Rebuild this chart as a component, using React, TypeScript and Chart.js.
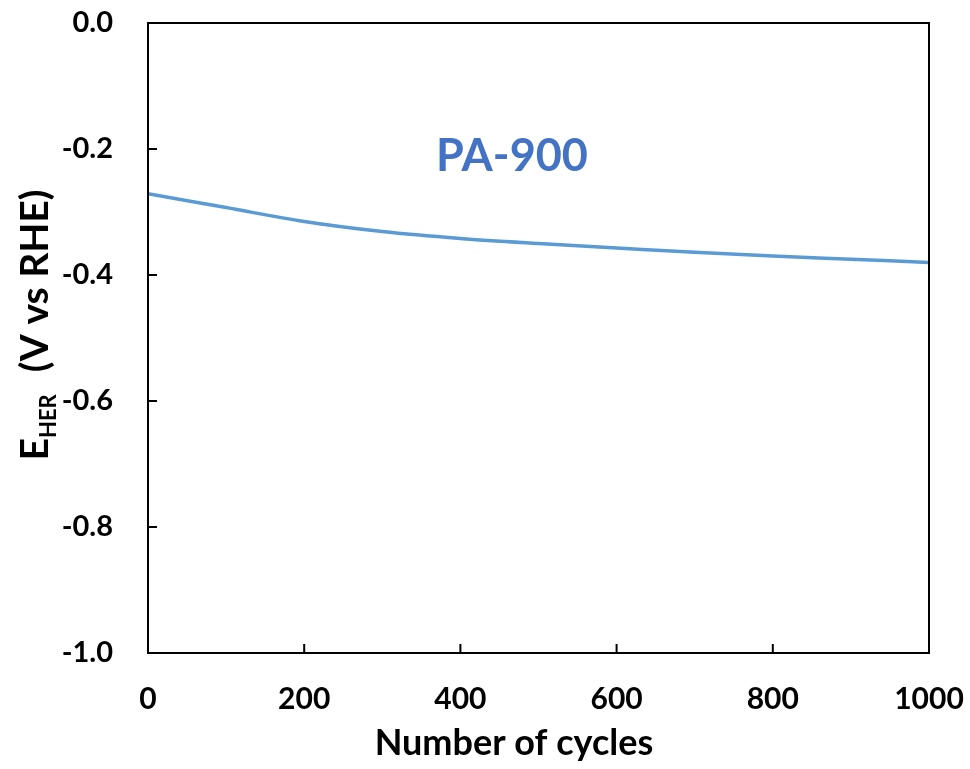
import React, { useEffect, useRef } from "react";
import { Chart, registerables } from "chart.js";

Chart.register(...registerables);

const cycles = [0, 100, 200, 300, 400, 500, 600, 700, 800, 900, 1000];
const potential = [-0.271, -0.293, -0.315, -0.331, -0.342, -0.35, -0.357, -0.364, -0.37, -0.375, -0.38];
const seriesLabel = "PA-900";
const xTitle = "Number of cycles";
const yTitleMain = "E";
const yTitleSub = "HER";
const yTitleRest = "(V vs RHE)";

const FONT = "Lato, 'Open Sans', sans-serif";

const decorPlugin = {
  id: "decor",
  afterDraw(chart: any) {
    const { ctx, chartArea } = chart;
    const { left, right, top, bottom } = chartArea;
    const xs = chart.scales.x;
    const ys = chart.scales.y;
    ctx.save();
    ctx.strokeStyle = "#000";
    ctx.lineWidth = 2;
    ctx.strokeRect(left, top, right - left, bottom - top);
    const tl = 9;
    ctx.beginPath();
    xs.ticks.forEach((t: any) => {
      const px = xs.getPixelForValue(t.value);
      ctx.moveTo(px, bottom);
      ctx.lineTo(px, bottom - tl);
    });
    ys.ticks.forEach((t: any) => {
      const py = ys.getPixelForValue(t.value);
      ctx.moveTo(left, py);
      ctx.lineTo(left + tl, py);
    });
    ctx.stroke();

    // series annotation
    ctx.fillStyle = "#4472C4";
    ctx.font = `bold 45px ${FONT}`;
    ctx.textAlign = "center";
    ctx.textBaseline = "alphabetic";
    ctx.fillText(seriesLabel, 512, 171);

    // x title
    ctx.fillStyle = "#000";
    ctx.font = `bold 36px ${FONT}`;
    ctx.fillText(xTitle, 514, 755);

    // y title (rotated, with subscript)
    ctx.translate(48, 325);
    ctx.rotate(-Math.PI / 2);
    ctx.textAlign = "left";
    const mainFont = `bold 39px ${FONT}`;
    const subFont = `bold 22px ${FONT}`;
    ctx.font = mainFont;
    const wE = ctx.measureText(yTitleMain).width;
    const wRest = ctx.measureText(yTitleRest).width;
    ctx.font = subFont;
    const wSub = ctx.measureText(yTitleSub).width;
    const gap = 22;
    const total = wE + wSub + gap + wRest;
    let cx = -total / 2;
    ctx.font = mainFont;
    ctx.fillText(yTitleMain, cx, 0);
    cx += wE;
    ctx.font = subFont;
    ctx.fillText(yTitleSub, cx, 8);
    cx += wSub + gap;
    ctx.font = mainFont;
    ctx.fillText(yTitleRest, cx, 0);
    ctx.restore();
  },
};

export default function App() {
  const ref = useRef<HTMLCanvasElement | null>(null);
  useEffect(() => {
    if (!ref.current) return;
    const chart = new Chart(ref.current, {
      type: "line",
      data: {
        datasets: [
          {
            label: seriesLabel,
            data: cycles.map((c, i) => ({ x: c, y: potential[i] })),
            borderColor: "#5B9BD5",
            borderWidth: 3.5,
            pointRadius: 0,
            cubicInterpolationMode: "monotone",
            fill: false,
          },
        ],
      },
      plugins: [decorPlugin],
      options: {
        animation: false,
        responsive: false,
        maintainAspectRatio: false,
        layout: { padding: { top: 23, right: 41, left: 0, bottom: 0 } },
        plugins: { legend: { display: false }, tooltip: { enabled: false } },
        scales: {
          x: {
            type: "linear",
            min: 0,
            max: 1000,
            ticks: {
              stepSize: 200,
              color: "#000",
              padding: 28,
              maxRotation: 0,
              font: { family: FONT, size: 30, weight: "bold" },
              callback: (v: any) => String(v),
            },
            grid: { display: false, drawTicks: false },
            border: { display: false },
            afterFit: (s: any) => {
              s.height = 116;
              s.paddingLeft = 0;
              s.paddingRight = 0;
              s.paddingTop = 0;
              s.paddingBottom = 0;
            },
          },
          y: {
            type: "linear",
            min: -1,
            max: 0,
            ticks: {
              stepSize: 0.2,
              color: "#000",
              padding: 35,
              font: { family: FONT, size: 29, weight: "bold" },
              callback: (v: any) => Number(v).toFixed(1),
            },
            grid: { display: false, drawTicks: false },
            border: { display: false },
            afterFit: (s: any) => {
              s.width = 148;
              s.paddingLeft = 0;
              s.paddingRight = 0;
              s.paddingTop = 0;
              s.paddingBottom = 0;
            },
          },
        },
      },
    });
    return () => chart.destroy();
  }, []);
  return (
    <div style={{ position: "absolute", left: 0, top: 0, width: 970, height: 769, background: "#fff" }}>
      <canvas ref={ref} width={970} height={769} />
    </div>
  );
}
